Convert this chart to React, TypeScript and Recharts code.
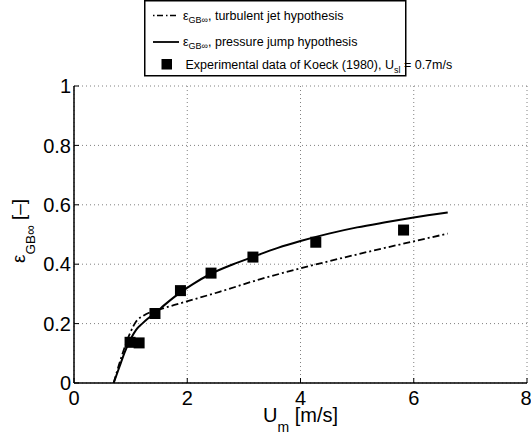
import React from 'react';
import { ComposedChart, Line, Scatter, XAxis, YAxis, CartesianGrid, Legend, Label } from 'recharts';

// Turbulent jet hypothesis (dash-dot)
const jetU = [0.7, 0.84, 0.99, 1.1, 1.22, 1.57, 1.87, 2.57, 3.28, 4.0, 5.0, 6.0, 6.6];
const jetEps = [0, 0.089, 0.168, 0.208, 0.226, 0.251, 0.268, 0.307, 0.349, 0.386, 0.433, 0.477, 0.503];

// Pressure jump hypothesis (solid)
const jumpU = [0.7, 0.8, 0.9, 1.0, 1.1, 1.2, 1.3, 1.43, 1.6, 1.88, 2.1, 2.41, 2.8, 3.15, 3.6, 4.0, 4.5, 5.0, 5.5, 6.0, 6.6];
const jumpEps = [0, 0.053, 0.106, 0.148, 0.18, 0.199, 0.216, 0.235, 0.263, 0.305, 0.333, 0.367, 0.399, 0.424, 0.455, 0.478, 0.503, 0.524, 0.541, 0.557, 0.574];

// Experimental data of Koeck (1980)
const expU = [0.99, 1.15, 1.43, 1.88, 2.42, 3.16, 4.27, 5.82];
const expEps = [0.137, 0.135, 0.234, 0.311, 0.37, 0.424, 0.474, 0.515];

const xTicks = [0, 2, 4, 6, 8];
const yTicks = [0, 0.2, 0.4, 0.6, 0.8, 1];

const jetData = jetU.map((u, i) => ({ u, eps: jetEps[i] }));
const jumpData = jumpU.map((u, i) => ({ u, eps: jumpEps[i] }));
const expData = expU.map((u, i) => ({ u, eps: expEps[i] }));

const FONT = '"Liberation Sans", Arial, Helvetica, sans-serif';
const DASHDOT = '7 3 2 3';

const Square = (props: any) => {
  const { cx, cy } = props;
  if (cx == null || cy == null) return null;
  return <rect x={cx - 5.5} y={cy - 5.5} width={11} height={11} fill="#000" />;
};

const XLabelContent = (props: any) => {
  const vb = props.viewBox || {};
  const cx = vb.x + vb.width / 2;
  return (
    <text x={cx} y={422} textAnchor="middle" fontFamily={FONT} fontSize={20} fill="#000">
      <tspan>U</tspan>
      <tspan fontSize={14} dy={10}>m</tspan>
      <tspan dy={-10}> [m/s]</tspan>
    </text>
  );
};

const YLabelContent = () => {
  const x = 25;
  const y = 231;
  return (
    <text x={x} y={y} transform={`rotate(-90, ${x}, ${y})`} textAnchor="middle" fontFamily={FONT} fontSize={19} fill="#000">
      <tspan>ε</tspan>
      <tspan fontSize={13.5} dy={10}>GB∞</tspan>
      <tspan dy={-10}> [–]</tspan>
    </text>
  );
};

const LegendContent = () => (
  <svg width={262} height={77} style={{ overflow: 'visible', display: 'block' }}>
    <rect x={0.75} y={0.75} width={261} height={75} fill="#fff" stroke="#000" strokeWidth={1.5} />
    <line x1={9} x2={35} y1={15.5} y2={15.5} stroke="#000" strokeWidth={1.5} strokeDasharray="1.5 2.5 6 3" />
    <text x={39} y={19.5} fontFamily={FONT} fontSize={12.5} fill="#000">
      <tspan>ε</tspan>
      <tspan fontSize={9} dy={3.5}>GB∞</tspan>
      <tspan dy={-3.5}>, turbulent jet hypothesis</tspan>
    </text>
    <line x1={9} x2={35} y1={42} y2={42} stroke="#000" strokeWidth={1.8} />
    <text x={39} y={45.5} fontFamily={FONT} fontSize={12.5} fill="#000">
      <tspan>ε</tspan>
      <tspan fontSize={9} dy={3.5}>GB∞</tspan>
      <tspan dy={-3.5}>, pressure jump hypothesis</tspan>
    </text>
    <rect x={17.5} y={59} width={10.5} height={10.5} fill="#000" />
    <text x={41.5} y={68.5} fontFamily={FONT} fontSize={12.5} fill="#000">
      <tspan>Experimental data of Koeck (1980), U</tspan>
      <tspan fontSize={9} dy={4}>sl</tspan>
      <tspan dy={-4}> = 0.7m/s</tspan>
    </text>
  </svg>
);

export default function App() {
  return (
    <div style={{ position: 'absolute', left: 0, top: 0, width: 531, height: 436, background: '#fff' }}>
      <ComposedChart
        width={531}
        height={436}
        margin={{ top: 86, right: 4, bottom: 0, left: 0 }}
        style={{ fontFamily: FONT }}
      >
        <CartesianGrid xAxisId="b" yAxisId="l" stroke="#808080" strokeDasharray="1 3" />
        <XAxis
          xAxisId="b"
          type="number"
          dataKey="u"
          domain={[0, 8]}
          ticks={xTicks}
          allowDataOverflow
          height={53}
          tickSize={-5}
          tickMargin={13}
          axisLine={{ stroke: '#000', strokeWidth: 1.5 }}
          tickLine={{ stroke: '#000', strokeWidth: 1 }}
          tick={{ fill: '#000', fontSize: 20, fontFamily: FONT }}
        >
          <Label content={XLabelContent} />
        </XAxis>
        <XAxis
          xAxisId="t"
          orientation="top"
          type="number"
          domain={[0, 8]}
          ticks={xTicks}
          allowDataOverflow
          height={0}
          tickSize={-5}
          tick={false}
          axisLine={{ stroke: '#000', strokeWidth: 1.5 }}
          tickLine={{ stroke: '#000', strokeWidth: 1 }}
        />
        <YAxis
          yAxisId="l"
          type="number"
          domain={[0, 1]}
          ticks={yTicks}
          allowDataOverflow
          width={74}
          tickSize={-5}
          tickMargin={8}
          axisLine={{ stroke: '#000', strokeWidth: 1.5 }}
          tickLine={{ stroke: '#000', strokeWidth: 1 }}
          tick={{ fill: '#000', fontSize: 20, fontFamily: FONT }}
        >
          <Label content={YLabelContent} />
        </YAxis>
        <YAxis
          yAxisId="r"
          orientation="right"
          type="number"
          domain={[0, 1]}
          ticks={yTicks}
          allowDataOverflow
          width={0}
          tickSize={-5}
          tick={false}
          axisLine={{ stroke: '#000', strokeWidth: 1.5 }}
          tickLine={{ stroke: '#000', strokeWidth: 1 }}
        />
        <Line
          xAxisId="b"
          yAxisId="l"
          data={jetData}
          dataKey="eps"
          type="monotone"
          stroke="#000"
          strokeWidth={1.8}
          strokeDasharray={DASHDOT}
          dot={false}
          activeDot={false}
          isAnimationActive={false}
        />
        <Line
          xAxisId="b"
          yAxisId="l"
          data={jumpData}
          dataKey="eps"
          type="monotone"
          stroke="#000"
          strokeWidth={2}
          dot={false}
          activeDot={false}
          isAnimationActive={false}
        />
        <Scatter
          xAxisId="b"
          yAxisId="l"
          data={expData}
          dataKey="eps"
          shape={Square}
          isAnimationActive={false}
        />
        <Legend
          layout="vertical"
          align="center"
          verticalAlign="middle"
          content={LegendContent}
          wrapperStyle={{ position: 'absolute', left: 144, top: 0, width: 262, height: 77 }}
        />
      </ComposedChart>
    </div>
  );
}
